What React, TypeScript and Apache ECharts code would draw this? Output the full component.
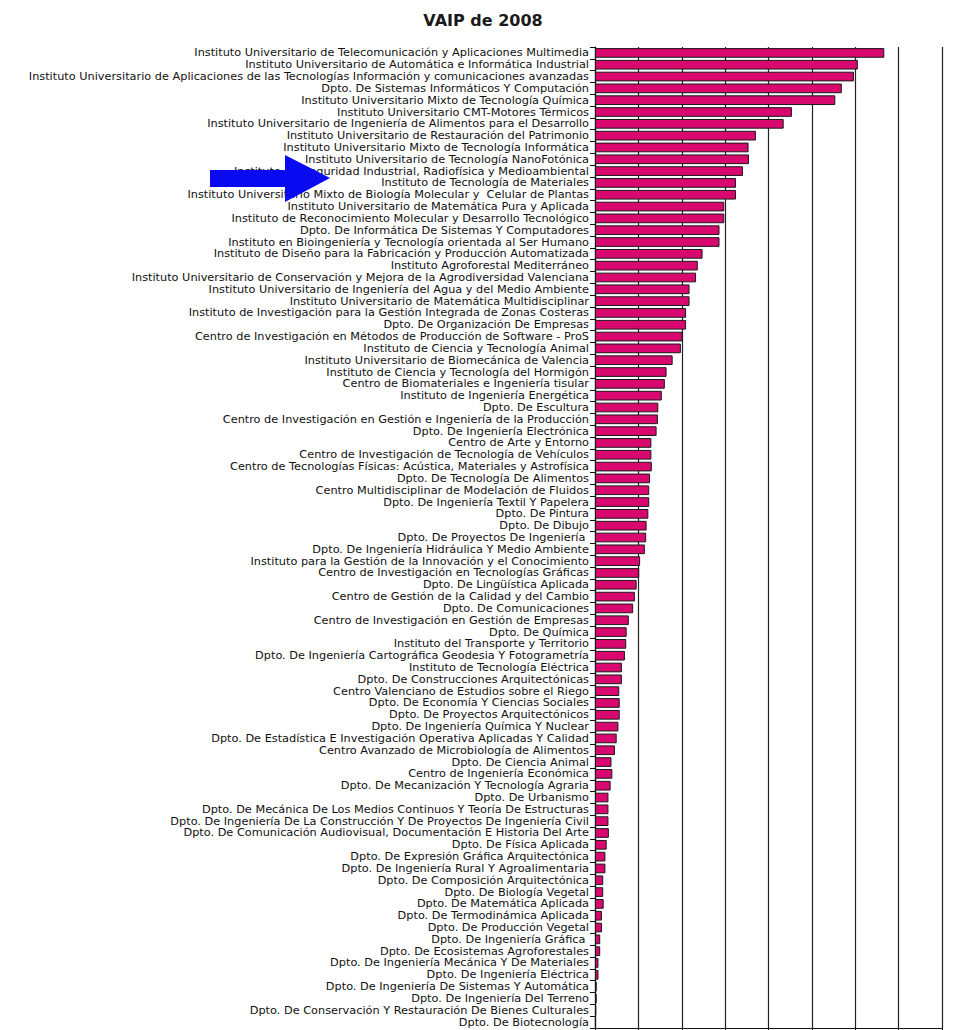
import React, { useEffect, useRef } from "react";
import * as echarts from "echarts";

const titleText = "VAIP de 2008";

const categories: string[] = [
  "Instituto Universitario de Telecomunicación y Aplicaciones Multimedia",
  "Instituto Universitario de Automática e Informática Industrial",
  "Instituto Universitario de Aplicaciones de las Tecnologías Información y comunicaciones avanzadas",
  "Dpto. De Sistemas Informáticos Y Computación",
  "Instituto Universitario Mixto de Tecnología Química",
  "Instituto Universitario CMT-Motores Térmicos",
  "Instituto Universitario de Ingeniería de Alimentos para el Desarrollo",
  "Instituto Universitario de Restauración del Patrimonio",
  "Instituto Universitario Mixto de Tecnología Informática",
  "Instituto Universitario de Tecnología NanoFotónica",
  "Instituto de Seguridad Industrial, Radiofísica y Medioambiental",
  "Instituto de Tecnología de Materiales",
  "Instituto Universitario Mixto de Biología Molecular y  Celular de Plantas",
  "Instituto Universitario de Matemática Pura y Aplicada",
  "Instituto de Reconocimiento Molecular y Desarrollo Tecnológico",
  "Dpto. De Informática De Sistemas Y Computadores",
  "Instituto en Bioingeniería y Tecnología orientada al Ser Humano",
  "Instituto de Diseño para la Fabricación y Producción Automatizada",
  "Instituto Agroforestal Mediterráneo",
  "Instituto Universitario de Conservación y Mejora de la Agrodiversidad Valenciana",
  "Instituto Universitario de Ingeniería del Agua y del Medio Ambiente",
  "Instituto Universitario de Matemática Multidisciplinar",
  "Instituto de Investigación para la Gestión Integrada de Zonas Costeras",
  "Dpto. De Organización De Empresas",
  "Centro de Investigación en Métodos de Producción de Software - ProS",
  "Instituto de Ciencia y Tecnología Animal",
  "Instituto Universitario de Biomecánica de Valencia",
  "Instituto de Ciencia y Tecnología del Hormigón",
  "Centro de Biomateriales e Ingeniería tisular",
  "Instituto de Ingeniería Energética",
  "Dpto. De Escultura",
  "Centro de Investigación en Gestión e Ingeniería de la Producción",
  "Dpto. De Ingeniería Electrónica",
  "Centro de Arte y Entorno",
  "Centro de Investigación de Tecnología de Vehículos",
  "Centro de Tecnologías Físicas: Acústica, Materiales y Astrofísica",
  "Dpto. De Tecnología De Alimentos",
  "Centro Multidisciplinar de Modelación de Fluidos",
  "Dpto. De Ingeniería Textil Y Papelera",
  "Dpto. De Pintura",
  "Dpto. De Dibujo",
  "Dpto. De Proyectos De Ingeniería ",
  "Dpto. De Ingeniería Hidráulica Y Medio Ambiente",
  "Instituto para la Gestión de la Innovación y el Conocimiento",
  "Centro de Investigación en Tecnologías Gráficas",
  "Dpto. De Lingüística Aplicada",
  "Centro de Gestión de la Calidad y del Cambio",
  "Dpto. De Comunicaciones",
  "Centro de Investigación en Gestión de Empresas",
  "Dpto. De Química",
  "Instituto del Transporte y Territorio",
  "Dpto. De Ingeniería Cartográfica Geodesia Y Fotogrametría",
  "Instituto de Tecnología Eléctrica",
  "Dpto. De Construcciones Arquitectónicas",
  "Centro Valenciano de Estudios sobre el Riego",
  "Dpto. De Economía Y Ciencias Sociales",
  "Dpto. De Proyectos Arquitectónicos",
  "Dpto. De Ingeniería Química Y Nuclear",
  "Dpto. De Estadística E Investigación Operativa Aplicadas Y Calidad",
  "Centro Avanzado de Microbiología de Alimentos",
  "Dpto. De Ciencia Animal",
  "Centro de Ingeniería Económica",
  "Dpto. De Mecanización Y Tecnología Agraria",
  "Dpto. De Urbanismo",
  "Dpto. De Mecánica De Los Medios Continuos Y Teoría De Estructuras",
  "Dpto. De Ingeniería De La Construcción Y De Proyectos De Ingeniería Civil",
  "Dpto. De Comunicación Audiovisual, Documentación E Historia Del Arte",
  "Dpto. De Física Aplicada",
  "Dpto. De Expresión Gráfica Arquitectónica",
  "Dpto. De Ingeniería Rural Y Agroalimentaria",
  "Dpto. De Composición Arquitectónica",
  "Dpto. De Biología Vegetal",
  "Dpto. De Matemática Aplicada",
  "Dpto. De Termodinámica Aplicada",
  "Dpto. De Producción Vegetal",
  "Dpto. De Ingeniería Gráfica ",
  "Dpto. De Ecosistemas Agroforestales",
  "Dpto. De Ingeniería Mecánica Y De Materiales",
  "Dpto. De Ingeniería Eléctrica",
  "Dpto. De Ingeniería De Sistemas Y Automática",
  "Dpto. De Ingeniería Del Terreno",
  "Dpto. De Conservación Y Restauración De Bienes Culturales",
  "Dpto. De Biotecnología",
];

const values: number[] = [
  6.67, 6.06, 5.97, 5.69, 5.54, 4.54, 4.35, 3.71, 3.54, 3.55,
  3.41, 3.25, 3.25, 2.98, 2.98, 2.87, 2.87, 2.48, 2.37, 2.33,
  2.18, 2.18, 2.1, 2.1, 2.02, 1.98, 1.79, 1.65, 1.61, 1.54,
  1.46, 1.45, 1.42, 1.3, 1.3, 1.31, 1.27, 1.25, 1.25, 1.23,
  1.19, 1.18, 1.15, 1.04, 1.02, 0.96, 0.92, 0.88, 0.78, 0.73,
  0.72, 0.69, 0.62, 0.62, 0.56, 0.57, 0.57, 0.54, 0.5, 0.46,
  0.38, 0.4, 0.36, 0.31, 0.31, 0.31, 0.32, 0.27, 0.24, 0.24,
  0.19, 0.19, 0.2, 0.16, 0.16, 0.12, 0.12, 0.08, 0.08, 0.04,
  0.04, 0.03, 0.02,
];

const axisMin = 0;
const axisMax = 8;
const axisStep = 1;

export default function App() {
  const ref = useRef<HTMLDivElement>(null);

  useEffect(() => {
    if (!ref.current) return;
    const chart = echarts.init(ref.current, undefined, { renderer: "svg" });
    chart.setOption({
      animation: false,
      backgroundColor: "#ffffff",
      title: {
        text: titleText,
        left: 478,
        top: 7,
        textAlign: "center",
        textStyle: {
          fontFamily: "DejaVu Sans, sans-serif",
          fontWeight: "bold",
          fontSize: 16,
          color: "#1a1a1a",
        },
      },
      grid: { left: 595, right: 23, top: 47, bottom: 2, containLabel: false },
      xAxis: {
        type: "value",
        min: axisMin,
        max: axisMax,
        interval: axisStep,
        axisLabel: { show: false },
        axisLine: { show: true, lineStyle: { color: "#111", width: 1 } },
        axisTick: { show: true, length: 4, lineStyle: { color: "#111" } },
        splitLine: { show: true, lineStyle: { color: "#222", width: 1.2 } },
      },
      yAxis: {
        type: "category",
        data: categories,
        inverse: true,
        axisLine: { show: true, lineStyle: { color: "#111", width: 1.2 } },
        axisTick: { show: true, length: 5, lineStyle: { color: "#111" } },
        axisLabel: {
          interval: 0,
          margin: 6,
          fontFamily: "DejaVu Sans, sans-serif",
          fontSize: 11.3,
          lineHeight: 11,
          color: "#111",
        },
      },
      series: [
        {
          type: "bar",
          data: values,
          barCategoryGap: "18%",
          itemStyle: {
            color: "#D8086E",
            borderColor: "#1a1a1a",
            borderWidth: 1,
          },
        },
      ],
      graphic: [
        {
          type: "polygon",
          shape: {
            points: [
              [210, 170],
              [285, 170],
              [285, 155],
              [330, 178],
              [285, 202],
              [285, 187],
              [210, 187],
            ],
          },
          style: { fill: "#0A0AF0" },
          z: 100,
        },
      ],
    });
    return () => chart.dispose();
  }, []);

  return (
    <div
      ref={ref}
      style={{ position: "fixed", left: 0, top: 0, width: 965, height: 1030, background: "#fff" }}
    />
  );
}
